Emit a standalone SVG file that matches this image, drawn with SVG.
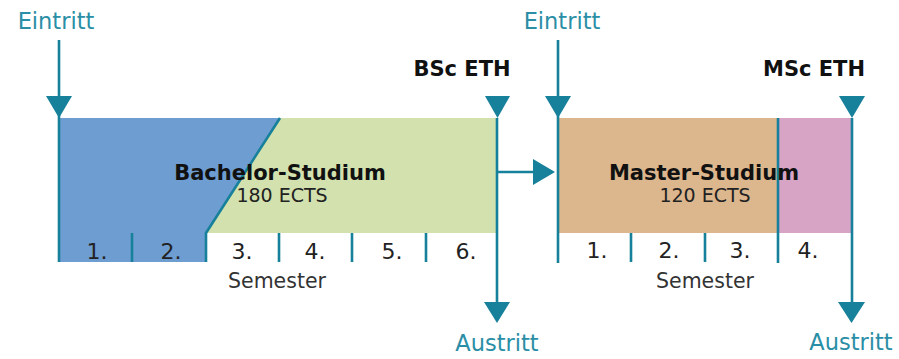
<svg xmlns="http://www.w3.org/2000/svg" width="899" height="359" viewBox="0 0 899 359">
<style>
.ln{stroke:#17809a;stroke-width:2.6;fill:none}
.tri{fill:#17809a}
.tl{font-family:"DejaVu Sans",sans-serif;font-size:22.5px;fill:#2a8ea6;text-anchor:middle}
.hd{font-family:"DejaVu Sans",sans-serif;font-size:21px;font-weight:bold;fill:#111;text-anchor:middle}
.sub{font-family:"DejaVu Sans",sans-serif;font-size:19px;fill:#222;text-anchor:middle}
.num{font-family:"DejaVu Sans",sans-serif;font-size:22px;fill:#222;text-anchor:middle}
.sem{font-family:"DejaVu Sans",sans-serif;font-size:20.5px;fill:#333;text-anchor:middle}
</style>
<rect width="899" height="359" fill="#fff"/>
<g id="bachelor">
<polygon points="59,118 280,118 206,233 206,262 59,262" fill="#6e9dd1"/>
<polygon points="280,118 497,118 497,233 206,233" fill="#d2e1ae"/>
<path class="ln" d="M280,118 L206,233 L206,262 M132,233 V262 M279,233 V262 M352,233 V262 M426,233 V262"/>
<text class="hd" x="280" y="180">Bachelor-Studium</text>
<text class="sub" x="282" y="202">180 ECTS</text>
<text class="num" x="97" y="259">1.</text>
<text class="num" x="171" y="259">2.</text>
<text class="num" x="242" y="259">3.</text>
<text class="num" x="315" y="259">4.</text>
<text class="num" x="392" y="259">5.</text>
<text class="num" x="466" y="259">6.</text>
<text class="sem" x="277" y="288">Semester</text>
</g>
<g id="master">
<rect x="558" y="118" width="220" height="115" fill="#dcb68d"/>
<rect x="778" y="118" width="74" height="115" fill="#d8a4c6"/>
<path class="ln" d="M778,118 V263 M631,233 V262 M705,233 V262"/>
<text class="hd" x="704" y="180">Master-Studium</text>
<text class="sub" x="705" y="202">120 ECTS</text>
<text class="num" x="597" y="258">1.</text>
<text class="num" x="669" y="258">2.</text>
<text class="num" x="740" y="258">3.</text>
<text class="num" x="808" y="258">4.</text>
<text class="sem" x="705" y="288">Semester</text>
</g>
<g id="labels">
<text class="tl" x="56" y="29">Eintritt</text>
<text class="tl" x="562" y="29">Eintritt</text>
<text class="hd" x="462" y="76">BSc ETH</text>
<text class="hd" x="814" y="76">MSc ETH</text>
<text class="tl" x="497" y="351">Austritt</text>
<text class="tl" x="851" y="350">Austritt</text>
</g>
<g id="connectors">
<path class="ln" d="M59,40 V262"/>
<polygon class="tri" points="46,96 72,96 59,118"/>
<path class="ln" d="M558,40 V263"/>
<polygon class="tri" points="545,96 571,96 558,118"/>
<path class="ln" d="M497,118 V305"/>
<polygon class="tri" points="485,96 510,96 497.5,118"/>
<polygon class="tri" points="484,302 510,302 497,323"/>
<path class="ln" d="M852,118 V305"/>
<polygon class="tri" points="839,96 865,96 852,118"/>
<polygon class="tri" points="838,302 865,302 851.5,323"/>
<path class="ln" d="M497,172 H536"/>
<polygon class="tri" points="533,159 533,185 555,172"/>
</g>
</svg>
